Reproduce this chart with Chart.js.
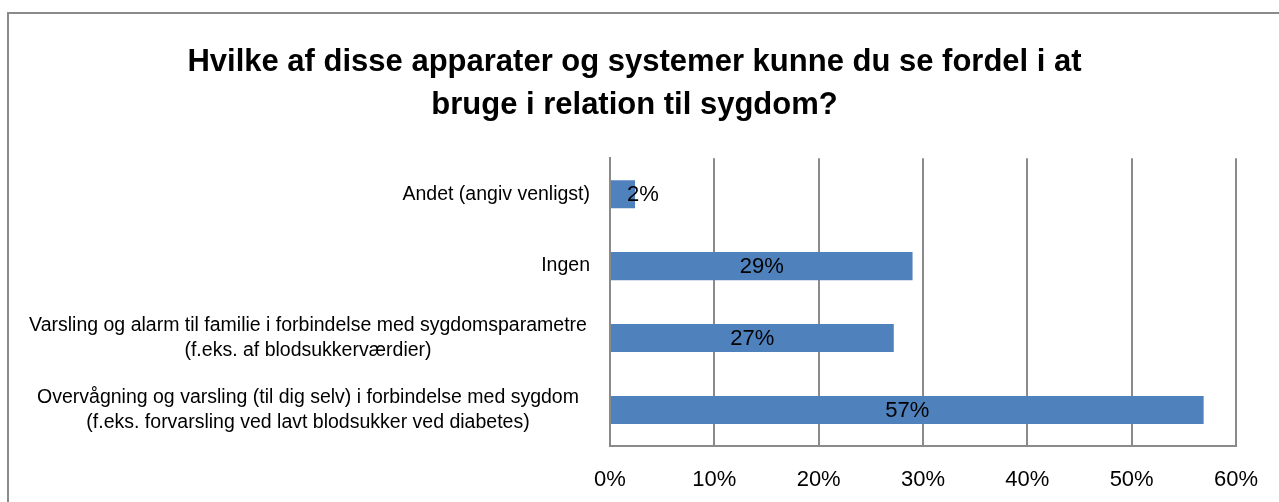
<!DOCTYPE html>
<html>
<head>
<meta charset="utf-8">
<script src="https://cdn.jsdelivr.net/npm/chart.js@4/dist/chart.umd.min.js"></script>
<style>
  html, body { margin: 0; padding: 0; background: #fff; overflow: hidden; }
  #wrap { position: absolute; left: 0; top: 0; width: 1279px; height: 502px; }
  #frame { position: absolute; left: 7px; top: 12px; width: 1400px; height: 700px;
           border-left: 2px solid #8a8a8a; border-top: 2px solid #8a8a8a; }
  canvas { position: absolute; left: 0; top: 0; }
</style>
</head>
<body>
<div id="wrap">
  <div id="frame"></div>
  <canvas id="c" width="1279" height="502"></canvas>
</div>
<script>
const titleLines = ["Hvilke af disse apparater og systemer kunne du se fordel i at", "bruge i relation til sygdom?"];
const categories = [
  ["Andet (angiv venligst)"],
  ["Ingen"],
  ["Varsling og alarm til familie i forbindelse med sygdomsparametre", "(f.eks. af blodsukkerværdier)"],
  ["Overvågning og varsling (til dig selv) i forbindelse med sygdom", "(f.eks. forvarsling ved lavt blodsukker ved diabetes)"]
];
const values = [2.4, 29.0, 27.2, 56.9];
const xTicks = [0, 10, 20, 30, 40, 50, 60];

const FONT = "'Liberation Sans', Arial, sans-serif";

const yLabelPlugin = {
  id: 'yLabels',
  afterDraw(chart) {
    const ctx = chart.ctx;
    const y = chart.scales.y;
    ctx.save();
    ctx.font = "19.5px " + FONT;
    ctx.fillStyle = "#000";
    ctx.textBaseline = "middle";
    const right = chart.chartArea.left - 20;
    const lh = 25;
    categories.forEach((lines, i) => {
      const cy = y.getPixelForValue(i);
      const widest = Math.max(...lines.map(l => ctx.measureText(l).width));
      const cx = lines.length > 1 ? 308 : right - widest / 2;
      ctx.textAlign = "center";
      const top = cy - (lines.length - 1) * lh / 2;
      lines.forEach((l, k) => ctx.fillText(l, cx, top + k * lh));
    });
    ctx.restore();
  }
};

const dataLabelPlugin = {
  id: 'dataLabels',
  afterDatasetsDraw(chart) {
    const ctx = chart.ctx;
    const meta = chart.getDatasetMeta(0);
    ctx.save();
    ctx.font = "22px " + FONT;
    ctx.fillStyle = "#000";
    ctx.textAlign = "center";
    ctx.textBaseline = "middle";
    meta.data.forEach((bar, i) => {
      const txt = Math.round(values[i]) + "%";
      const w = ctx.measureText(txt).width;
      const cx = Math.max((bar.x + bar.base) / 2, bar.base + w / 2 + 16);
      ctx.fillText(txt, cx, bar.y + 1);
    });
    ctx.restore();
  }
};

new Chart(document.getElementById('c'), {
  type: 'bar',
  data: {
    labels: categories.map(c => c.join(' ')),
    datasets: [{
      data: values,
      backgroundColor: '#4F81BD',
      borderWidth: 0,
      barPercentage: 0.39,
      categoryPercentage: 1.0
    }]
  },
  options: {
    indexAxis: 'y',
    responsive: false,
    animation: false,
    devicePixelRatio: 1,
    layout: { padding: { left: 16, right: 26, top: 0, bottom: 0 } },
    plugins: {
      legend: { display: false },
      tooltip: { enabled: false },
      title: {
        display: true,
        text: titleLines,
        color: '#000',
        font: { family: FONT, size: 31, weight: 'bold', lineHeight: 1.39 },
        padding: { top: 41, bottom: 31 }
      }
    },
    scales: {
      x: {
        min: 0, max: 60,
        afterBuildTicks(s) { s.ticks = xTicks.map(v => ({ value: v })); },
        afterFit(s) { s.height = 56; },
        ticks: {
          callback: v => v + '%',
          color: '#000',
          font: { family: FONT, size: 22 },
          padding: 21
        },
        grid: { color: '#8a8a8a', lineWidth: 2, drawTicks: false },
        border: { display: true, color: '#8a8a8a', width: 2 }
      },
      y: {
        afterFit(s) { s.width = 594; },
        ticks: { display: false },
        grid: { display: false, drawTicks: false },
        border: { display: true, color: '#8a8a8a', width: 2 }
      },
      yR: {
        type: 'category',
        position: 'right',
        afterFit(s) { s.width = 16; },
        ticks: { display: false },
        grid: { display: false, drawTicks: false },
        border: { display: false }
      }
    }
  },
  plugins: [yLabelPlugin, dataLabelPlugin]
});
</script>
</body>
</html>
